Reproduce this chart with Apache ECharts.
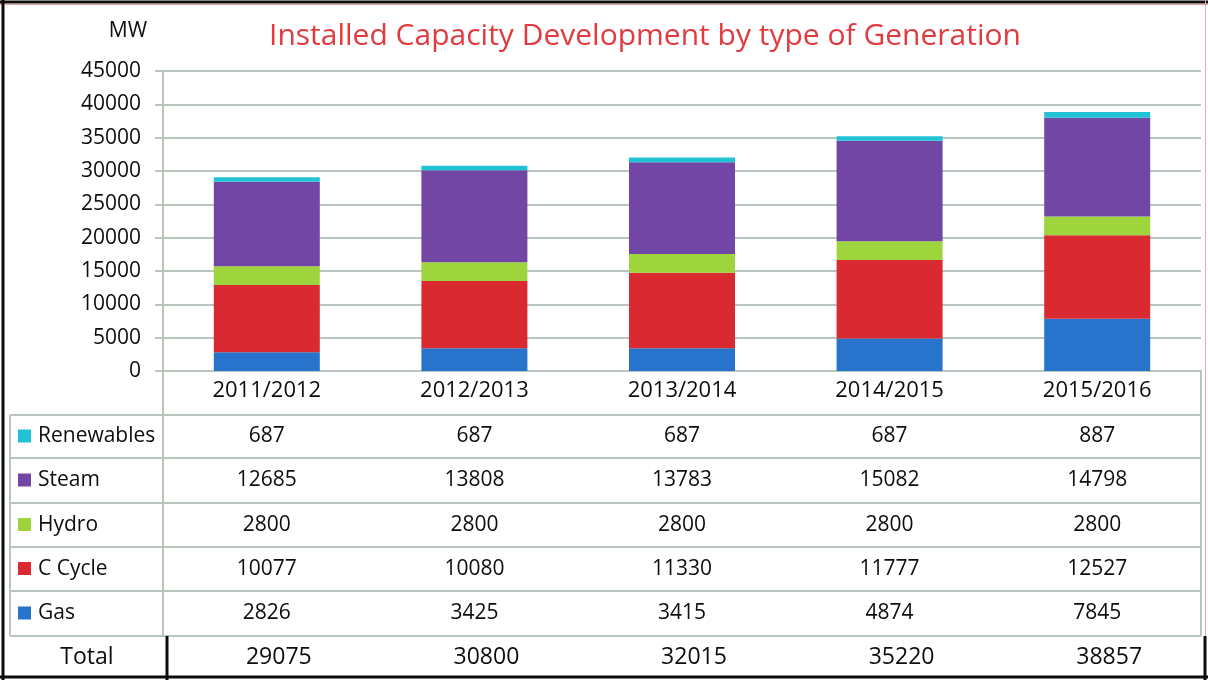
<!DOCTYPE html>
<html>
<head>
<meta charset="utf-8">
<script src="https://cdn.jsdelivr.net/npm/echarts@6/dist/echarts.min.js"></script>
<style>
  html, body { margin: 0; padding: 0; background: #fff; }
  #chart { width: 1208px; height: 680px; }
</style>
</head>
<body>
<div id="chart"></div>
<script>
// data
const years = ['2011/2012', '2012/2013', '2013/2014', '2014/2015', '2015/2016'];
const gas = [2826, 3425, 3415, 4874, 7845];
const cCycle = [10077, 10080, 11330, 11777, 12527];
const hydro = [2800, 2800, 2800, 2800, 2800];
const steam = [12685, 13808, 13783, 15082, 14798];
const renewables = [687, 687, 687, 687, 887];
const totals = [29075, 30800, 32015, 35220, 38857];

const FONT = '"Open Sans", sans-serif';
const GRID = '#b9c6bc';
const INK = '#0d0d0d';

// bottom to top in the stack
const seriesDefs = [
    { name: 'Gas', data: gas, color: '#2873cc' },
    { name: 'C Cycle', data: cCycle, color: '#d92a31' },
    { name: 'Hydro', data: hydro, color: '#9ed43c' },
    { name: 'Steam', data: steam, color: '#7146a5' },
    { name: 'Renewables', data: renewables, color: '#21c2d3' }
];

const chart = echarts.init(document.getElementById('chart'));

chart.setOption({
    animation: false,
    backgroundColor: '#fff',
    grid: { left: 163, right: 7, top: 71, bottom: 309 },
    xAxis: {
        type: 'category',
        data: years,
        axisLine: { lineStyle: { color: GRID, width: 2 } },
        axisTick: { show: false },
        axisLabel: { color: INK, fontFamily: FONT, fontSize: 22, margin: 9 }
    },
    yAxis: {
        type: 'value',
        min: 0,
        max: 45000,
        interval: 5000,
        axisLine: { show: true, lineStyle: { color: GRID, width: 2 } },
        axisTick: { show: true, length: 8, lineStyle: { color: GRID, width: 2 } },
        splitLine: { lineStyle: { color: GRID, width: 2 } },
        axisLabel: { color: INK, fontFamily: FONT, fontSize: 21, margin: 22, formatter: v => String(v) }
    },
    series: seriesDefs.map(s => ({
        name: s.name,
        type: 'bar',
        stack: 'total',
        barWidth: 106,
        data: s.data,
        itemStyle: { color: s.color }
    }))
});

// data table under the axis
const rowTop = [415, 458, 503, 547, 591];
const rowBottom = 636;
const tableRows = seriesDefs.slice().reverse();
const colX = years.map((y, i) => chart.convertToPixel({ xAxisIndex: 0 }, i));

const graphics = [];
const line = (x1, y1, x2, y2, color, w) => graphics.push({
    type: 'line', silent: true,
    shape: { x1, y1, x2, y2 },
    style: { stroke: color, lineWidth: w }
});
const text = (t, x, y, opts) => graphics.push({
    type: 'text', silent: true,
    style: Object.assign({
        text: t, x, y, fill: INK,
        font: '21px ' + FONT, align: 'center', verticalAlign: 'middle'
    }, opts || {})
});

// title + unit
text('Installed Capacity Development by type of Generation', 645, 36,
    { fill: '#e23a3e', font: '30px ' + FONT });
text('MW', 128, 31, { font: '21px ' + FONT });

// table grid lines
rowTop.forEach(y => line(10, y, 1201, y, GRID, 2));
line(10, rowBottom, 1201, rowBottom, GRID, 2);
line(10, rowTop[0], 10, rowBottom, GRID, 2);
line(1201, 371, 1201, rowBottom, GRID, 2);
line(163, 371, 163, rowBottom, GRID, 2);

tableRows.forEach((s, r) => {
    const cy = (rowTop[r] + (rowTop[r + 1] || rowBottom)) / 2;
    graphics.push({
        type: 'rect', silent: true,
        shape: { x: 18, y: cy - 7, width: 13, height: 13 },
        style: { fill: s.color }
    });
    text(s.name, 38, cy, { align: 'left' });
    s.data.forEach((v, i) => text(String(v), colX[i], cy));
});

// total row
text('Total', 87, 657, { font: '23px ' + FONT });
totals.forEach((v, i) => text(String(v), colX[i] + 12, 657, { font: '23px ' + FONT }));
line(167, rowBottom, 167, 680, INK, 3);

// outer frame
line(0, 2, 1208, 2, INK, 3);
line(0, 4.5, 1208, 4.5, '#e9a9ab', 1);
line(3, 0, 3, 680, INK, 3);
line(0, 677, 1208, 677, INK, 3);
line(1205.5, 0, 1205.5, 636, '#e9a9ab', 1);
line(1205, 636, 1205, 680, INK, 3);

chart.setOption({ graphic: graphics });
</script>
</body>
</html>
